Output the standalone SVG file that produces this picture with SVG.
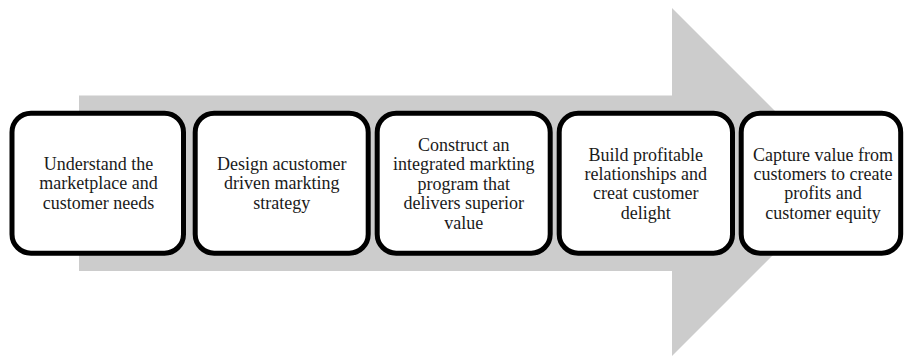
<svg xmlns="http://www.w3.org/2000/svg" width="904" height="356" viewBox="0 0 904 356">
  <style>
    .step rect { fill: #ffffff; stroke: #000000; stroke-width: 5; }
    .step text { font-family: "Liberation Serif", "Times New Roman", serif; font-size: 18px; fill: #1a1a1a; text-anchor: middle; }
  </style>
  <rect width="904" height="356" fill="#ffffff"/>
  <!-- background block arrow -->
  <g id="connectors">
    <path d="M79,95.5 H672 V8 L846,182 L672,356 V271 H79 Z" fill="#cccccc"/>
  </g>
  <g id="step1" class="step">
    <rect x="12" y="113.2" width="171.5" height="140" rx="19"/>
    <text x="98.5" y="170">Understand the</text>
    <text x="98.5" y="189.4">marketplace and</text>
    <text x="98.5" y="208.8">customer needs</text>
  </g>
  <g id="step2" class="step">
    <rect x="195.2" y="113.2" width="173" height="140" rx="19"/>
    <text x="281.7" y="170">Design acustomer</text>
    <text x="281.7" y="189.4">driven markting</text>
    <text x="281.7" y="208.8">strategy</text>
  </g>
  <g id="step3" class="step">
    <rect x="377.2" y="113.2" width="173" height="140" rx="19"/>
    <text x="463.7" y="151">Construct an</text>
    <text x="463.7" y="170.4">integrated markting</text>
    <text x="463.7" y="189.8">program that</text>
    <text x="463.7" y="209.2">delivers superior</text>
    <text x="463.7" y="228.6">value</text>
  </g>
  <g id="step4" class="step">
    <rect x="559.2" y="113.2" width="173.3" height="140" rx="19"/>
    <text x="645.8" y="160.5">Build profitable</text>
    <text x="645.8" y="179.9">relationships and</text>
    <text x="645.8" y="199.3">creat customer</text>
    <text x="645.8" y="218.7">delight</text>
  </g>
  <g id="step5" class="step">
    <rect x="741.2" y="113.2" width="159.5" height="140" rx="19"/>
    <text x="823" y="160.5">Capture value from</text>
    <text x="823" y="179.9">customers to create</text>
    <text x="823" y="199.3">profits and</text>
    <text x="823" y="218.7">customer equity</text>
  </g>
</svg>
